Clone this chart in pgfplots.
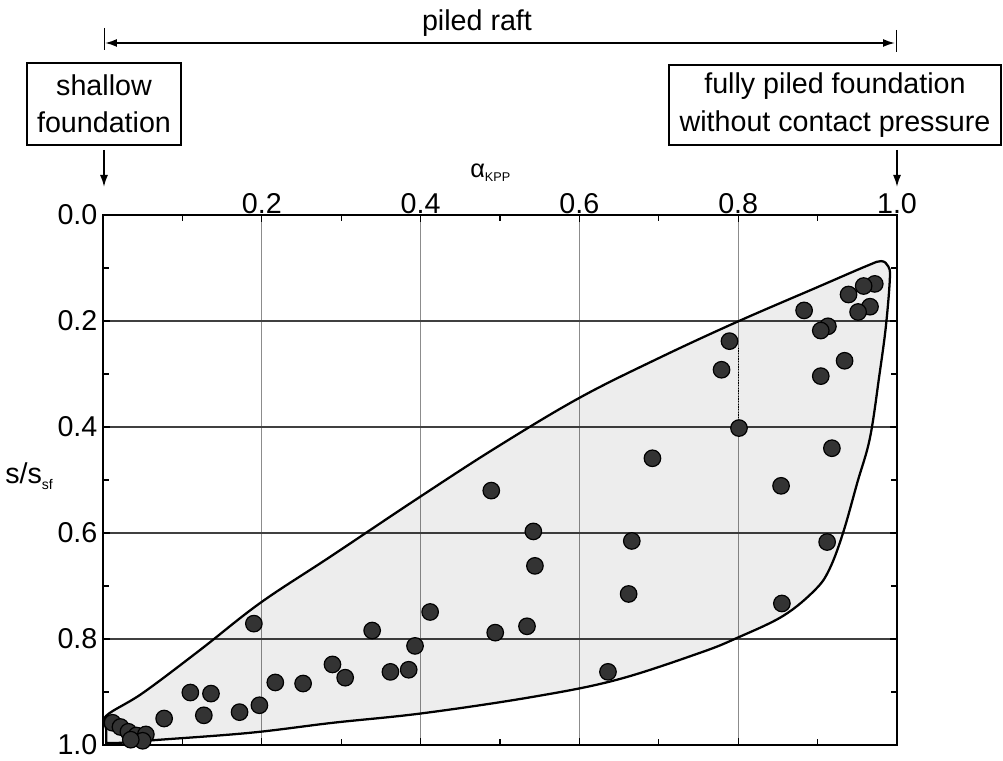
\documentclass[border=0pt]{standalone}
\usepackage{pgfplots}
\pgfplotsset{compat=1.18}
\usepackage{fontspec}
\setmainfont{Liberation Sans}
\usetikzlibrary{arrows.meta}
\newcommand{\lbl}{\fontsize{21.5}{24}\selectfont}
\newcommand{\txt}{\fontsize{21.5}{28}\selectfont}
\begin{document}
\begin{tikzpicture}
\begin{axis}[
  name=ax, scale only axis, width=595.5pt, height=397.5pt,
  xmin=0, xmax=1, ymin=0, ymax=1, y dir=reverse,
  xtick={0.2,0.4,0.6,0.8,1.0}, xticklabels={0.2,0.4,0.6,0.8,1.0},
  ytick={0,0.2,0.4,0.6,0.8,1.0}, yticklabels={0.0,0.2,0.4,0.6,0.8,1.0},
  minor xtick={0.1,0.3,0.5,0.7,0.9}, minor ytick={0.1,0.3,0.5,0.7,0.9},
  xticklabel pos=upper,
  tick align=inside, major tick length=5pt, minor tick length=4.5pt,
  tick style={black, line width=0.9pt},
  grid=major,
  major x grid style={black!45, line width=0.55pt},
  major y grid style={black!75, line width=1pt},
  axis line style={line width=1.6pt},
  ticklabel style={font=\lbl},
  xticklabel style={inner sep=1pt},
  yticklabel style={inner sep=4pt},
  clip=false,
]
\coordinate (TL) at (axis cs:0,0);
% envelope
\addplot[draw=black, line width=1.7pt, fill=black, fill opacity=0.07, smooth, tension=0.6] coordinates {
 (0.004,0.996) (0.004,0.970) (0.004,0.945) (0.05,0.902) (0.122,0.821) (0.198,0.732) (0.286,0.645)
 (0.399,0.532) (0.496,0.438) (0.600,0.345) (0.700,0.270) (0.798,0.202) (0.900,0.136)
 (0.962,0.096) (0.980,0.087) (0.989,0.097) (0.991,0.120) (0.986,0.210) (0.978,0.300)
 (0.966,0.420) (0.950,0.505) (0.932,0.600) (0.915,0.668) (0.897,0.707) (0.857,0.756)
 (0.800,0.797) (0.752,0.826) (0.647,0.877) (0.542,0.909) (0.403,0.940) (0.290,0.958)
 (0.185,0.977) (0.063,0.991) (0.020,0.996)} -- cycle;
% dotted link
\addplot[black, densely dotted, line width=1pt] coordinates {(0.800,0.250) (0.800,0.395)};
% data points
\addplot[only marks, mark=*, mark size=6.2pt, mark options={fill=black!80, draw=black, line width=0.9pt}] coordinates {
(0.972,0.130) (0.958,0.134) (0.939,0.150) (0.883,0.180) (0.966,0.173) (0.951,0.183)
(0.913,0.210) (0.904,0.218) (0.789,0.238) (0.779,0.292) (0.934,0.275) (0.904,0.304)
(0.801,0.402) (0.918,0.440) (0.692,0.459) (0.854,0.511) (0.489,0.520) (0.542,0.597)
(0.666,0.615) (0.912,0.617) (0.544,0.662) (0.662,0.715) (0.855,0.733) (0.412,0.749)
(0.190,0.771) (0.339,0.784) (0.494,0.788) (0.534,0.776) (0.393,0.813) (0.289,0.848)
(0.305,0.873) (0.362,0.862) (0.385,0.858) (0.636,0.862) (0.217,0.882) (0.252,0.884)
(0.110,0.901) (0.136,0.903) (0.127,0.944) (0.172,0.938) (0.197,0.925) (0.077,0.950)
(0.012,0.958) (0.022,0.966) (0.032,0.975) (0.042,0.982) (0.054,0.980) (0.050,0.992) (0.035,0.990)};
\end{axis}
\begin{scope}[shift={(TL)}, x=0.75pt, y=-0.75pt, shift={(-103,-215)}]
\path (0,0) rectangle (1003,760);
\node[font=\txt, inner sep=0] at (477,23) {piled raft};
\draw[line width=0.5pt] (104,28) -- (104,50);
\draw[line width=0.5pt] (896,30) -- (896,52);
\draw[line width=1.3pt, {Latex[length=9pt,width=6pt]}-{Latex[length=9pt,width=6pt]}] (105,43) -- (895,43);
\draw[line width=1.3pt] (27,63) rectangle (181,145);
\node[font=\txt, align=center, inner sep=0] at (104,104) {shallow\\foundation};
\draw[line width=1.3pt] (669,65) rectangle (1001,145);
\node[font=\txt, align=center, inner sep=0] at (835,105) {fully piled foundation\\without contact pressure};
\draw[line width=1.3pt, -{Latex[length=9pt,width=6pt]}] (104,150) -- (104,187);
\draw[line width=1.3pt, -{Latex[length=9pt,width=6pt]}] (897,150) -- (897,187);
\node[anchor=base west, inner sep=0] at (470,178) {\fontsize{19}{19}\selectfont α\raisebox{-3pt}{\fontsize{9.5}{9.5}\selectfont KPP}};
\node[anchor=base west, inner sep=0] at (5,484) {\fontsize{21.5}{21.5}\selectfont s/s\raisebox{-4pt}{\fontsize{10.5}{10.5}\selectfont sf}};
\end{scope}
\end{tikzpicture}
\end{document}
